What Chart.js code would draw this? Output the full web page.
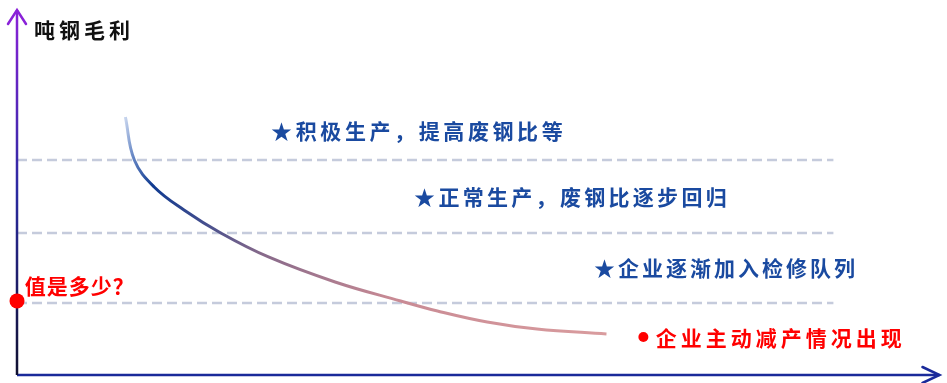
<!DOCTYPE html>
<html>
<head>
<meta charset="utf-8">
<script src="https://cdn.jsdelivr.net/npm/chart.js@4.4.1/dist/chart.umd.min.js"></script>
<style>
  html, body { margin: 0; padding: 0; background: #fff; }
  #wrap { width: 947px; height: 383px; position: relative; }
</style>
</head>
<body>
<div id="wrap"><canvas id="chart"></canvas></div>
<script>
// curve of margin per ton vs. time (abstract units 0-100)
const curveX = [11.75, 12.72, 14.87, 18.10, 22.09, 27.26, 34.48, 41.59, 45.58, 50.97, 56.36, 63.90];
const curveY = [70.68, 58.90, 51.51, 45.21, 38.90, 32.33, 25.48, 20.27, 17.53, 14.52, 12.60, 11.23];

// dashed threshold levels
const levelY = [58.9, 38.9, 19.7];
const levelEndX = 88.5;

// red markers
const markerX = [0, 67.9];
const markerY = [20.3, 10.4];

// annotations
const noteTexts = ['吨钢毛利', '★积极生产，提高废钢比等', '★正常生产，废钢比逐步回归',
                   '★企业逐渐加入检修队列', '值是多少？', '企业主动减产情况出现'];
const noteX = [1.9, 27.6, 43.1, 62.6, 0.9, 69.3];
const noteY = [94.5, 66.8, 48.8, 29.3, 24.4, 10.1];

const noteStyle = [
    { color: '#111111', advance: 25 },
    { color: '#1a4aa0', advance: 24.6 },
    { color: '#1a4aa0', advance: 24.3 },
    { color: '#1a4aa0', advance: 24 },
    { color: '#ff0000', advance: 22 },
    { color: '#ff0000', advance: 25 }
];

function curveGradient(context) {
    const chart = context.chart;
    if (!chart.chartArea) return '#1a3c8e';
    const sx = chart.scales.x, sy = chart.scales.y;
    const n = curveX.length - 1;
    const g = chart.ctx.createLinearGradient(
        sx.getPixelForValue(curveX[0]), sy.getPixelForValue(curveY[0]),
        sx.getPixelForValue(curveX[n]), sy.getPixelForValue(curveY[n]));
    g.addColorStop(0, '#c9d6ee');
    g.addColorStop(0.04, '#6d8cc8');
    g.addColorStop(0.1, '#0f3a90');
    g.addColorStop(0.2, '#3a4a8e');
    g.addColorStop(0.34, '#86698a');
    g.addColorStop(0.6, '#c88a94');
    g.addColorStop(1, '#d99c9e');
    return g;
}

function yAxisGradient(context) {
    const chart = context.chart;
    if (!chart.chartArea) return '#3a2a9a';
    const { top, bottom } = chart.chartArea;
    const g = chart.ctx.createLinearGradient(0, top, 0, bottom);
    g.addColorStop(0, '#8a22d8');
    g.addColorStop(0.5, '#2a2aa0');
    g.addColorStop(1, '#101030');
    return g;
}

const toPoints = (xs, ys) => xs.map((x, i) => ({ x: x, y: ys[i] }));

// arrows + text notes
const annotate = {
    id: 'annotate',
    afterDatasetsDraw(chart) {
        const ctx = chart.ctx;
        const sx = chart.scales.x, sy = chart.scales.y;
        ctx.save();

        // y axis arrow
        const ax = sx.getPixelForValue(0), ay = sy.getPixelForValue(100);
        ctx.strokeStyle = '#8a22d8';
        ctx.lineWidth = 2.5;
        ctx.lineCap = 'round';
        ctx.beginPath();
        ctx.moveTo(ax - 9, ay + 14);
        ctx.lineTo(ax, ay);
        ctx.lineTo(ax + 9, ay + 14);
        ctx.stroke();

        // x axis arrow
        const bx = sx.getPixelForValue(100), by = sy.getPixelForValue(0);
        ctx.strokeStyle = '#1a2a9a';
        ctx.beginPath();
        ctx.moveTo(bx - 17, by - 8);
        ctx.lineTo(bx, by);
        ctx.lineTo(bx - 17, by + 8);
        ctx.stroke();

        // texts, one glyph per cell
        ctx.font = 'bold 21px "Noto Sans CJK SC", "Noto Sans CJK JP", sans-serif';
        ctx.textBaseline = 'middle';
        ctx.textAlign = 'center';
        noteTexts.forEach((t, i) => {
            const x0 = sx.getPixelForValue(noteX[i]);
            const y = sy.getPixelForValue(noteY[i]);
            const adv = noteStyle[i].advance;
            ctx.fillStyle = noteStyle[i].color;
            Array.from(t).forEach((ch, k) => {
                ctx.fillText(ch, x0 + k * adv + 10, y);
            });
        });
        ctx.restore();
    }
};

new Chart(document.getElementById('chart'), {
    type: 'scatter',
    data: {
        datasets: [
            {
                label: 'markers',
                data: toPoints(markerX, markerY),
                pointRadius: [7.5, 5],
                pointBackgroundColor: '#ff0000',
                pointBorderWidth: 0,
                clip: false
            },
            {
                label: 'curve',
                data: toPoints(curveX, curveY),
                showLine: true,
                tension: 0.4,
                borderColor: curveGradient,
                borderWidth: 3,
                pointRadius: 0,
                clip: false
            },
            {
                label: 'yAxis',
                data: [{ x: 0, y: 0 }, { x: 0, y: 100 }],
                showLine: true,
                borderColor: yAxisGradient,
                borderWidth: 2.5,
                pointRadius: 0,
                clip: false
            },
            {
                label: 'xAxis',
                data: [{ x: 0, y: 0 }, { x: 100, y: 0 }],
                showLine: true,
                borderColor: '#1a2a9a',
                borderWidth: 2.5,
                pointRadius: 0,
                clip: false
            },
            ...levelY.map((ly, i) => ({
                label: 'level' + i,
                data: [{ x: 0, y: ly }, { x: levelEndX, y: ly }],
                showLine: true,
                borderColor: '#c5cbdc',
                borderWidth: 2.5,
                borderDash: [10, 5],
                pointRadius: 0,
                clip: false
            }))
        ]
    },
    options: {
        responsive: true,
        maintainAspectRatio: false,
        animation: false,
        events: [],
        layout: { padding: { left: 17, right: 2, top: 10, bottom: 8 } },
        plugins: {
            legend: { display: false },
            tooltip: { enabled: false }
        },
        scales: {
            x: { type: 'linear', min: 0, max: 100, display: false },
            y: { type: 'linear', min: 0, max: 100, display: false }
        }
    },
    plugins: [annotate]
});
</script>
</body>
</html>
